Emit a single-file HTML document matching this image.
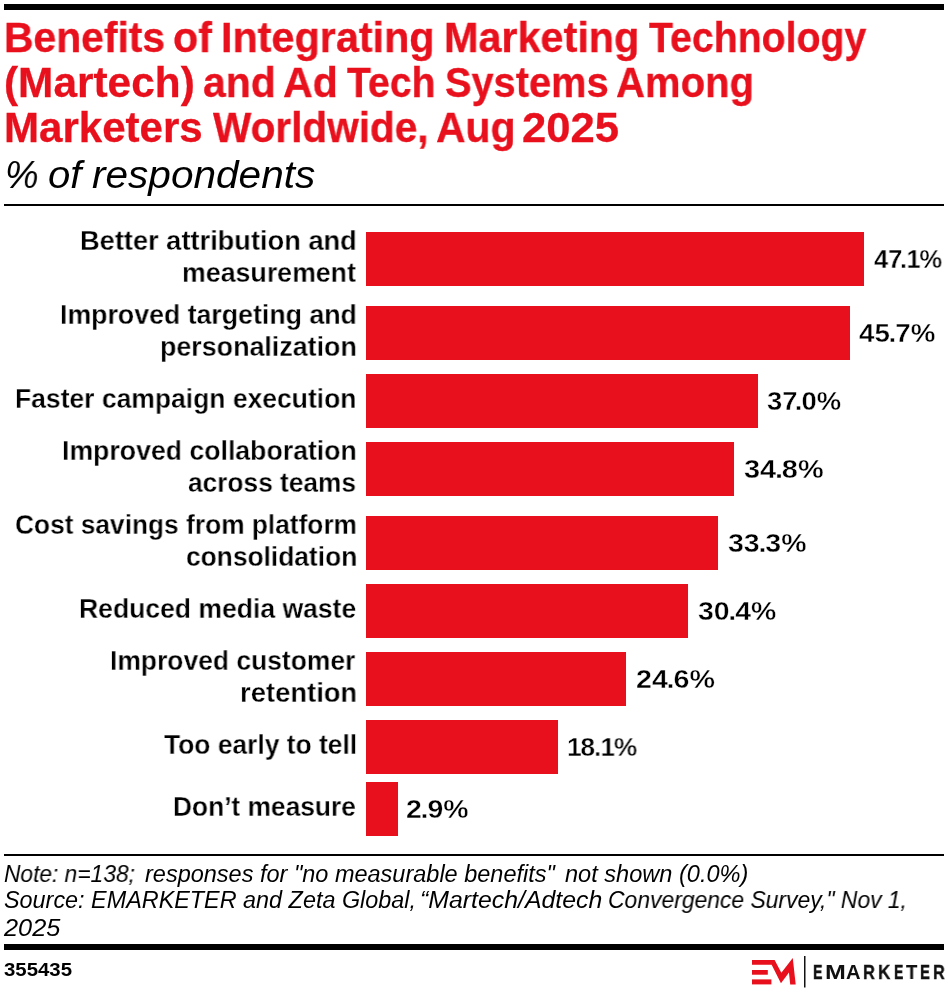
<!DOCTYPE html>
<html><head><meta charset="utf-8"><title>Chart</title>
<style>
html,body{margin:0;padding:0;background:#fff;}
body{width:948px;height:994px;position:relative;overflow:hidden;font-family:"Liberation Sans",sans-serif;}
.t{position:absolute;will-change:transform;line-height:1;white-space:nowrap;transform-origin:0 0;}
.b{position:absolute;left:366px;height:54px;background:#E8101C;}
.r{position:absolute;left:4px;width:940px;background:#000;}
</style></head><body>
<div class="r" style="top:4px;height:6px"></div>
<div class="r" style="top:204px;height:2px"></div>
<div class="r" style="top:854px;height:2px"></div>
<div class="r" style="top:944px;height:6px"></div>
<div class="b" style="top:232px;width:498px"></div>
<div class="b" style="top:306px;width:484px"></div>
<div class="b" style="top:374px;width:392px"></div>
<div class="b" style="top:442px;width:368px"></div>
<div class="b" style="top:516px;width:352px"></div>
<div class="b" style="top:584px;width:322px"></div>
<div class="b" style="top:652px;width:260px"></div>
<div class="b" style="top:720px;width:192px"></div>
<div class="b" style="top:782px;width:32px"></div>
<div class="t" style="left:3.78px;top:17.00px;font-size:42px;font-weight:700;color:#E8101C;transform:scaleX(0.9727);-webkit-text-stroke:0.3px #E8101C;">Benefits</div>
<div class="t" style="left:173.04px;top:17.00px;font-size:42px;font-weight:700;color:#E8101C;transform:scaleX(0.9816);-webkit-text-stroke:0.3px #E8101C;">of</div>
<div class="t" style="left:221.05px;top:17.00px;font-size:42px;font-weight:700;color:#E8101C;transform:scaleX(0.9844);-webkit-text-stroke:0.3px #E8101C;">Integrating</div>
<div class="t" style="left:443.75px;top:17.00px;font-size:42px;font-weight:700;color:#E8101C;transform:scaleX(0.9845);-webkit-text-stroke:0.3px #E8101C;">Marketing</div>
<div class="t" style="left:649.00px;top:17.00px;font-size:42px;font-weight:700;color:#E8101C;transform:scaleX(0.9341);-webkit-text-stroke:0.3px #E8101C;">Technology</div>
<div class="t" style="left:3.98px;top:62.00px;font-size:42px;font-weight:700;color:#E8101C;transform:scaleX(1.0092);-webkit-text-stroke:0.3px #E8101C;">(Martech)</div>
<div class="t" style="left:203.02px;top:62.00px;font-size:42px;font-weight:700;color:#E8101C;transform:scaleX(0.9761);-webkit-text-stroke:0.3px #E8101C;">and</div>
<div class="t" style="left:283.02px;top:62.00px;font-size:42px;font-weight:700;color:#E8101C;transform:scaleX(0.9808);-webkit-text-stroke:0.3px #E8101C;">Ad</div>
<div class="t" style="left:347.30px;top:62.00px;font-size:42px;font-weight:700;color:#E8101C;transform:scaleX(0.9323);-webkit-text-stroke:0.3px #E8101C;">Tech</div>
<div class="t" style="left:444.75px;top:62.00px;font-size:42px;font-weight:700;color:#E8101C;transform:scaleX(0.9471);-webkit-text-stroke:0.3px #E8101C;">Systems</div>
<div class="t" style="left:615.75px;top:62.00px;font-size:42px;font-weight:700;color:#E8101C;transform:scaleX(0.9546);-webkit-text-stroke:0.3px #E8101C;">Among</div>
<div class="t" style="left:3.70px;top:107.00px;font-size:42px;font-weight:700;color:#E8101C;transform:scaleX(1.0015);-webkit-text-stroke:0.3px #E8101C;">Marketers</div>
<div class="t" style="left:213.30px;top:107.00px;font-size:42px;font-weight:700;color:#E8101C;transform:scaleX(0.9656);-webkit-text-stroke:0.3px #E8101C;">Worldwide,</div>
<div class="t" style="left:435.73px;top:107.00px;font-size:42px;font-weight:700;color:#E8101C;transform:scaleX(0.9744);-webkit-text-stroke:0.3px #E8101C;">Aug</div>
<div class="t" style="left:522.26px;top:107.00px;font-size:42px;font-weight:700;color:#E8101C;transform:scaleX(1.0385);-webkit-text-stroke:0.3px #E8101C;">2025</div>
<div class="t" style="left:4.72px;top:155.60px;font-size:38px;font-weight:400;color:#000000;transform:scaleX(0.9931);font-style:italic;">%</div>
<div class="t" style="left:47.64px;top:155.60px;font-size:38px;font-weight:400;color:#000000;transform:scaleX(1.0559);font-style:italic;">of</div>
<div class="t" style="left:92.23px;top:155.60px;font-size:38px;font-weight:400;color:#000000;transform:scaleX(1.0676);font-style:italic;">respondents</div>
<div class="t" style="left:80.02px;top:226.50px;font-size:27.5px;font-weight:700;color:#000000;transform:scaleX(0.9899);-webkit-text-stroke:0.3px #fff;">Better attribution and</div>
<div class="t" style="left:182.05px;top:258.50px;font-size:27.5px;font-weight:700;color:#000000;transform:scaleX(0.9727);-webkit-text-stroke:0.3px #fff;">measurement</div>
<div class="t" style="left:59.86px;top:300.50px;font-size:27.5px;font-weight:700;color:#000000;transform:scaleX(0.9715);-webkit-text-stroke:0.3px #fff;">Improved targeting and</div>
<div class="t" style="left:160.05px;top:332.50px;font-size:27.5px;font-weight:700;color:#000000;transform:scaleX(0.9758);-webkit-text-stroke:0.3px #fff;">personalization</div>
<div class="t" style="left:15.27px;top:384.50px;font-size:27.5px;font-weight:700;color:#000000;transform:scaleX(0.9630);-webkit-text-stroke:0.3px #fff;">Faster campaign execution</div>
<div class="t" style="left:62.46px;top:436.50px;font-size:27.5px;font-weight:700;color:#000000;transform:scaleX(0.9693);-webkit-text-stroke:0.3px #fff;">Improved collaboration</div>
<div class="t" style="left:187.94px;top:468.50px;font-size:27.5px;font-weight:700;color:#000000;transform:scaleX(0.9557);-webkit-text-stroke:0.3px #fff;">across teams</div>
<div class="t" style="left:14.64px;top:510.50px;font-size:27.5px;font-weight:700;color:#000000;transform:scaleX(0.9566);-webkit-text-stroke:0.3px #fff;">Cost savings from platform</div>
<div class="t" style="left:185.64px;top:542.50px;font-size:27.5px;font-weight:700;color:#000000;transform:scaleX(0.9580);-webkit-text-stroke:0.3px #fff;">consolidation</div>
<div class="t" style="left:79.27px;top:594.50px;font-size:27.5px;font-weight:700;color:#000000;transform:scaleX(0.9648);-webkit-text-stroke:0.3px #fff;">Reduced media waste</div>
<div class="t" style="left:110.08px;top:646.50px;font-size:27.5px;font-weight:700;color:#000000;transform:scaleX(0.9613);-webkit-text-stroke:0.3px #fff;">Improved customer</div>
<div class="t" style="left:239.61px;top:678.50px;font-size:27.5px;font-weight:700;color:#000000;transform:scaleX(0.9965);-webkit-text-stroke:0.3px #fff;">retention</div>
<div class="t" style="left:164.14px;top:730.50px;font-size:27.5px;font-weight:700;color:#000000;transform:scaleX(0.9601);-webkit-text-stroke:0.3px #fff;">Too early to tell</div>
<div class="t" style="left:173.39px;top:792.50px;font-size:27.5px;font-weight:700;color:#000000;transform:scaleX(0.9569);-webkit-text-stroke:0.3px #fff;">Don’t measure</div>
<div class="t" style="left:873.54px;top:246.00px;font-size:26.5px;font-weight:700;color:#000000;transform:scaleX(0.9623);-webkit-text-stroke:0.4px #fff;">47<span style="margin:0 -0.8px 0 -2.6px">.</span><span style="margin:0 -1.2px 0 0.3px">1</span>%</div>
<div class="t" style="left:858.75px;top:320.00px;font-size:26.5px;font-weight:700;color:#000000;transform:scaleX(1.0465);-webkit-text-stroke:0.4px #fff;">45<span style="margin:0 -1px 0 -1.2px">.</span>7%</div>
<div class="t" style="left:766.97px;top:388.00px;font-size:26.5px;font-weight:700;color:#000000;transform:scaleX(1.0343);-webkit-text-stroke:0.4px #fff;">37<span style="margin:0 -0.8px 0 -2.6px">.</span>0%</div>
<div class="t" style="left:743.81px;top:456.00px;font-size:26.5px;font-weight:700;color:#000000;transform:scaleX(1.0915);-webkit-text-stroke:0.4px #fff;">34<span style="margin:0 -1px 0 -1.2px">.</span>8%</div>
<div class="t" style="left:727.92px;top:530.00px;font-size:26.5px;font-weight:700;color:#000000;transform:scaleX(1.0761);-webkit-text-stroke:0.4px #fff;">33<span style="margin:0 -1px 0 -1.2px">.</span>3%</div>
<div class="t" style="left:697.53px;top:598.00px;font-size:26.5px;font-weight:700;color:#000000;transform:scaleX(1.0718);-webkit-text-stroke:0.4px #fff;">30<span style="margin:0 -1px 0 -1.2px">.</span>4%</div>
<div class="t" style="left:636.02px;top:666.00px;font-size:26.5px;font-weight:700;color:#000000;transform:scaleX(1.0817);-webkit-text-stroke:0.4px #fff;">24<span style="margin:0 -1px 0 -1.2px">.</span>6%</div>
<div class="t" style="left:569.00px;top:734.00px;font-size:26.5px;font-weight:700;color:#000000;transform:scaleX(0.9912);-webkit-text-stroke:0.4px #fff;"><span style="margin:0 -1.2px 0 -2px">1</span>8<span style="margin:0 -1px 0 -1.2px">.</span><span style="margin:0 -1.2px 0 0.3px">1</span>%</div>
<div class="t" style="left:406.43px;top:796.00px;font-size:26.5px;font-weight:700;color:#000000;transform:scaleX(1.0750);-webkit-text-stroke:0.4px #fff;">2<span style="margin:0 -1px 0 -1.2px">.</span>9%</div>
<div class="t" style="left:3.81px;top:862.80px;font-size:23px;font-weight:400;color:#000000;transform:scaleX(0.9885);font-style:italic;">Note: n=138;</div>
<div class="t" style="left:145.10px;top:862.80px;font-size:23px;font-weight:400;color:#000000;transform:scaleX(1.0216);font-style:italic;">responses for "no measurable benefits"</div>
<div class="t" style="left:564.60px;top:862.80px;font-size:23px;font-weight:400;color:#000000;transform:scaleX(1.0247);font-style:italic;">not shown (0.0%)</div>
<div class="t" style="left:3.98px;top:889.00px;font-size:23px;font-weight:400;color:#000000;transform:scaleX(1.0167);font-style:italic;">Source: EMARKETER and Zeta Global,</div>
<div class="t" style="left:419.54px;top:889.00px;font-size:23px;font-weight:400;color:#000000;transform:scaleX(1.0801);font-style:italic;">“Martech/Adtech</div>
<div class="t" style="left:608.41px;top:889.00px;font-size:23px;font-weight:400;color:#000000;transform:scaleX(0.9949);font-style:italic;">Convergence Survey," Nov 1,</div>
<div class="t" style="left:4.20px;top:916.60px;font-size:23px;font-weight:400;color:#000000;transform:scaleX(1.1020);font-style:italic;">2025</div>
<div class="t" style="left:4.14px;top:961.80px;font-size:17.5px;font-weight:700;color:#000000;transform:scaleX(1.1649);">355435</div>
<div class="t" style="left:812.99px;top:962.00px;font-size:20px;font-weight:700;color:#111111;transform:scaleX(0.7083);-webkit-text-stroke:0.55px #111111;">E</div>
<div class="t" style="left:824.85px;top:962.00px;font-size:20px;font-weight:700;color:#111111;transform:scaleX(1.2500);">M</div>
<div class="t" style="left:846.29px;top:962.00px;font-size:20px;font-weight:700;color:#111111;transform:scaleX(1.0077);">A</div>
<div class="t" style="left:863.38px;top:962.00px;font-size:20px;font-weight:700;color:#111111;transform:scaleX(0.8231);-webkit-text-stroke:0.35px #111111;">R</div>
<div class="t" style="left:878.14px;top:962.00px;font-size:20px;font-weight:700;color:#111111;transform:scaleX(0.8615);-webkit-text-stroke:0.3px #111111;">K</div>
<div class="t" style="left:893.80px;top:962.00px;font-size:20px;font-weight:700;color:#111111;transform:scaleX(0.7000);-webkit-text-stroke:0.55px #111111;">E</div>
<div class="t" style="left:905.50px;top:962.00px;font-size:20px;font-weight:700;color:#111111;transform:scaleX(0.9250);-webkit-text-stroke:0.2px #111111;">T</div>
<div class="t" style="left:919.67px;top:962.00px;font-size:20px;font-weight:700;color:#111111;transform:scaleX(0.7333);-webkit-text-stroke:0.55px #111111;">E</div>
<div class="t" style="left:932.58px;top:962.00px;font-size:20px;font-weight:700;color:#111111;transform:scaleX(0.8154);-webkit-text-stroke:0.35px #111111;">R</div>
<svg style="position:absolute;left:0;top:0" width="948" height="994" viewBox="0 0 948 994">
<polygon fill="#E8101C" points="752,960 774.6,960 781.35,972.8 792.75,958 795.7,984.4 790.2,984.4 788.95,972.4 780.95,983.3 771.65,964.8 752,964.8"/>
<rect fill="#E8101C" x="752" y="970" width="15.8" height="4.7"/>
<rect fill="#E8101C" x="752" y="979.4" width="19.4" height="5"/>
<rect fill="#111" x="804" y="956" width="1.5" height="31.5"/>
</svg>
</body></html>
